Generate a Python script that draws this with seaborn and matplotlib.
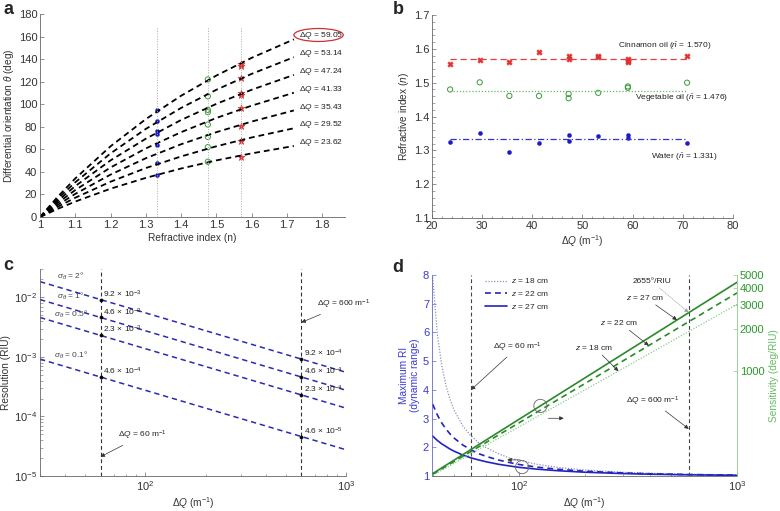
import numpy as np
import pandas as pd
import seaborn as sns
import matplotlib.pyplot as plt
from matplotlib.patches import Ellipse
from matplotlib.ticker import FixedLocator, NullLocator, FuncFormatter, MultipleLocator

# ---- panel a: differential orientation vs refractive index
n_grid = [1.0, 1.05, 1.1, 1.2, 1.3, 1.4, 1.5, 1.6, 1.72]
dq_a = [59.05, 53.14, 47.24, 41.33, 35.43, 29.52, 23.62]
theta_a = [
    [0, 17.9, 34.2, 62.7, 86.8, 107.5, 125.4, 141.1, 157.5],
    [0, 16.1, 30.8, 56.4, 78.1, 96.7, 112.8, 126.9, 141.7],
    [0, 14.3, 27.4, 50.2, 69.4, 86.0, 100.3, 112.8, 126.0],
    [0, 12.5, 23.9, 43.9, 60.8, 75.2, 87.8, 98.7, 110.2],
    [0, 10.7, 20.5, 37.6, 52.1, 64.5, 75.2, 84.6, 94.5],
    [0, 9.0, 17.1, 31.3, 43.4, 53.7, 62.7, 70.5, 78.7],
    [0, 7.2, 13.7, 25.1, 34.7, 43.0, 50.2, 56.4, 63.0],
]
n_water, n_veg, n_cin = 1.331, 1.476, 1.570
theta_water = [37, 48, 64, 74, 76, 85, 95]
theta_veg = [49, 62, 71, 82, 93, 95, 107, 122]
theta_cin = [53, 67, 81, 97, 108, 110, 123, 134, 136]

# ---- panel b: refractive index vs dQ
cin_dq = [23.62, 29.52, 35.43, 41.33, 47.24, 47.24, 53.14, 53.14, 59.05, 59.05, 59.05, 70.86]
cin_n = [1.555, 1.567, 1.560, 1.590, 1.580, 1.571, 1.578, 1.575, 1.569, 1.565, 1.560, 1.578]
veg_dq = [23.62, 29.52, 35.43, 41.33, 47.24, 47.24, 53.14, 59.05, 59.05, 70.86]
veg_n = [1.480, 1.501, 1.461, 1.461, 1.467, 1.454, 1.470, 1.489, 1.485, 1.500]
wat_dq = [23.62, 29.52, 35.43, 41.33, 47.24, 47.24, 53.14, 59.05, 59.05, 70.86]
wat_n = [1.325, 1.351, 1.296, 1.323, 1.346, 1.329, 1.342, 1.346, 1.338, 1.321]
mean_dq = [23.62, 70.86]
mean_cin, mean_veg, mean_wat = 1.570, 1.475, 1.335

# ---- panel c: resolution vs dQ
dq_c = [30, 60, 600, 1000]
sigmas = ["2°", "1°", "0.5°", "0.1°"]
res_c = [
    [1.84e-2, 9.2e-3, 9.2e-4, 5.52e-4],
    [9.2e-3, 4.6e-3, 4.6e-4, 2.76e-4],
    [4.6e-3, 2.3e-3, 2.3e-4, 1.38e-4],
    [9.2e-4, 4.6e-4, 4.6e-5, 2.76e-5],
]
lab_60 = [r"9.2 × 10$^{-3}$", r"4.6 × 10$^{-3}$", r"2.3 × 10$^{-3}$", r"4.6 × 10$^{-4}$"]
lab_600 = [r"9.2 × 10$^{-4}$", r"4.6 × 10$^{-4}$", r"2.3 × 10$^{-4}$", r"4.6 × 10$^{-5}$"]

# ---- panel d: max RI and sensitivity vs dQ
dq_d = [40, 42, 44, 46, 48, 50, 55, 60, 65, 70, 80, 90, 100, 120, 150, 200, 300, 400, 600, 1000]
ri_18 = [7.92, 5.96, 4.86, 4.16, 3.68, 3.32, 2.74, 2.40, 2.16, 2.00, 1.78, 1.63, 1.54, 1.41,
         1.30, 1.21, 1.13, 1.096, 1.062, 1.036]
ri_22 = [3.50, 3.13, 2.85, 2.64, 2.47, 2.33, 2.08, 1.91, 1.78, 1.69, 1.56, 1.47, 1.40, 1.31,
         1.235, 1.167, 1.105, 1.077, 1.050, 1.029]
ri_27 = [2.39, 2.24, 2.12, 2.03, 1.94, 1.87, 1.73, 1.63, 1.56, 1.50, 1.41, 1.35, 1.30, 1.24,
         1.184, 1.132, 1.084, 1.062, 1.040, 1.024]
dq_s = [40, 1000]
sens_18 = [172, 3050]
sens_22 = [175, 3700]
sens_27 = [177, 4425]

sns.set_style("ticks")
plt.rcParams["font.family"] = ["Liberation Sans", "DejaVu Sans"]
plt.rcParams["mathtext.fontset"] = "custom"
plt.rcParams["mathtext.rm"] = "Liberation Sans"
plt.rcParams["mathtext.it"] = "Liberation Sans:italic"
plt.rcParams["mathtext.bf"] = "Liberation Sans:bold"
plt.rcParams["font.size"] = 8
plt.rcParams["axes.linewidth"] = 0.6
plt.rcParams["axes.edgecolor"] = "#666666"
plt.rcParams["xtick.color"] = "#666666"
plt.rcParams["ytick.color"] = "#666666"
plt.rcParams["xtick.labelcolor"] = "#333333"
plt.rcParams["ytick.labelcolor"] = "#333333"
plt.rcParams["axes.labelcolor"] = "#333333"

fig = plt.figure(figsize=(7.8, 5.11), dpi=100)
ax_a = fig.add_axes([0.0513, 0.5753, 0.3910, 0.3973])
ax_b = fig.add_axes([0.5538, 0.5733, 0.3859, 0.3973])
ax_c = fig.add_axes([0.0513, 0.0685, 0.3923, 0.4051])
ax_d = fig.add_axes([0.5538, 0.0685, 0.3911, 0.3933])

for a in [ax_a, ax_b, ax_c, ax_d]:
    sns.despine(ax=a)
    a.tick_params(direction="in", length=3, width=0.5, labelsize=8, pad=2)
    a.tick_params(which="minor", direction="in", length=1.8, width=0.4)

lab_kw = dict(fontsize=7.3, color="#333333", labelpad=2)
txt = dict(fontsize=6, color="#222222")
DQ = r"$\Delta Q$"

# ---------------- a
for dq, th in zip(dq_a, theta_a):
    d = pd.DataFrame({"n": n_grid, "theta": th})
    sns.lineplot(data=d, x="n", y="theta", ax=ax_a, color="black", lw=1.3,
                 linestyle=(0, (3.2, 2.2)), sort=False)
    ax_a.text(1.734, th[-1] + 3, DQ + " = %.2f" % dq, va="center", ha="left", **txt)
for nv in [n_water, n_veg, n_cin]:
    ax_a.axvline(nv, ymax=0.937, color="#aaaaaa", lw=0.7, ls=":")
sns.scatterplot(x=[n_water] * len(theta_water), y=theta_water, ax=ax_a,
                color="#1a1acc", marker="o", s=9, edgecolor="#1a1acc")
sns.scatterplot(x=[n_veg] * len(theta_veg), y=theta_veg, ax=ax_a,
                facecolor="none", edgecolor="#3a9a3a", marker="o", s=14, linewidth=0.7)
sns.scatterplot(x=[n_cin] * len(theta_cin), y=theta_cin, ax=ax_a,
                color="#e03030", marker="*", s=28, edgecolor="#e03030")
ax_a.add_patch(Ellipse((1.79, 161.4), 0.14, 11.5, fill=False, ec="#d03030",
                       lw=0.9, clip_on=False))
ax_a.set_xlim(1, 1.865)
ax_a.set_ylim(0, 180)
ax_a.xaxis.set_major_locator(FixedLocator([1, 1.1, 1.2, 1.3, 1.4, 1.5, 1.6, 1.7, 1.8]))
ax_a.xaxis.set_major_formatter(FuncFormatter(lambda v, p: "%g" % round(v, 2)))
ax_a.yaxis.set_major_locator(MultipleLocator(20))
ax_a.set_xlabel("Refractive index (n)", **lab_kw)
ax_a.set_ylabel(r"Differential orientation $\theta$ (deg)", **lab_kw)

# ---------------- b
sns.scatterplot(x=cin_dq, y=cin_n, ax=ax_b, color="#e03030", marker="X", s=16,
                edgecolor="#e03030")
sns.scatterplot(x=veg_dq, y=veg_n, ax=ax_b, facecolor="none", edgecolor="#3a9a3a",
                marker="o", s=14, linewidth=0.7)
sns.scatterplot(x=wat_dq, y=wat_n, ax=ax_b, color="#1a1acc", marker="o", s=9,
                edgecolor="#1a1acc")
sns.lineplot(x=mean_dq, y=[mean_cin] * 2, ax=ax_b, color="#e04040", lw=0.9,
             linestyle=(0, (5, 3)))
sns.lineplot(x=mean_dq, y=[mean_veg] * 2, ax=ax_b, color="#66bb66", lw=0.9,
             linestyle=(0, (1, 1.5)))
sns.lineplot(x=mean_dq, y=[mean_wat] * 2, ax=ax_b, color="#3333cc", lw=0.9,
             linestyle=(0, (5, 2, 1, 2)))
ax_b.text(75.6, 1.609, r"Cinnamon oil ($\bar{n}$ = 1.570)", ha="right", va="center", **txt)
ax_b.text(79, 1.455, r"Vegetable oil ($\bar{n}$ = 1.476)", ha="right", va="center", **txt)
ax_b.text(77, 1.281, r"Water ($\bar{n}$ = 1.331)", ha="right", va="center", **txt)
ax_b.set_xlim(20, 80)
ax_b.set_ylim(1.1, 1.7)
ax_b.xaxis.set_major_locator(MultipleLocator(10))
ax_b.xaxis.set_minor_locator(MultipleLocator(2))
ax_b.yaxis.set_major_locator(MultipleLocator(0.1))
ax_b.yaxis.set_minor_locator(MultipleLocator(0.02))
ax_b.yaxis.set_major_formatter(FuncFormatter(lambda v, p: "%.1f" % v))
ax_b.set_xlabel(DQ + r" (m$^{-1}$)", **lab_kw)
ax_b.set_ylabel(r"Refractive index ($n$)", **lab_kw)

# ---------------- c
ax_c.set_xscale("log")
ax_c.set_yscale("log")
for res in res_c:
    sns.lineplot(x=dq_c, y=res, ax=ax_c, color="#2b2bb0", lw=1.1,
                 linestyle=(0, (3.5, 2.5)))
    sns.scatterplot(x=dq_c[1:3], y=res[1:3], ax=ax_c, color="black", s=6,
                    edgecolor="black", zorder=5)
for res, l60, l600 in zip(res_c, lab_60, lab_600):
    ax_c.annotate(l60, (dq_c[1], res[1]), xytext=(2, 4), textcoords="offset points",
                  va="center", **txt)
    ax_c.annotate(l600, (dq_c[2], res[2]), xytext=(2, 4), textcoords="offset points",
                  va="center", **txt)
sig_pos = [(36.3, 0.0227), (36.3, 0.0104), (35.1, 5.15e-3), (35.1, 1.08e-3)]
for s, (xp, yp) in zip(sigmas, sig_pos):
    ax_c.text(xp, yp, r"$\sigma_\theta$ = " + s, fontsize=6, color="#444444",
              va="center", ha="left")
for v in [60, 600]:
    ax_c.axvline(v, color="#333333", lw=0.8, ls=(0, (3.5, 2.5)))
arr = dict(arrowstyle="-|>", color="#333333", lw=0.5, mutation_scale=6,
           shrinkA=0, shrinkB=0)
ax_c.annotate(DQ + r" = 60 m$^{-1}$", xy=(60, 2.1e-5), xytext=(73, 4.8e-5),
              va="center", arrowprops=arr, **txt)
ax_c.annotate(DQ + r" = 600 m$^{-1}$", xy=(600, 3.8e-3), xytext=(720, 7.6e-3),
              va="center", arrowprops=arr, **txt)
ax_c.set_xlim(30, 1000)
ax_c.set_ylim(1e-5, 0.03)
ax_c.set_xlabel(DQ + r" (m$^{-1}$)", **lab_kw)
ax_c.set_ylabel("Resolution (RIU)", **lab_kw)

# ---------------- d
blue = "#2323c0"
green = "#2a8a2a"
ax_d.set_xscale("log")
sns.lineplot(x=dq_d, y=ri_18, ax=ax_d, color="#9090bb", lw=0.9, linestyle=(0, (1, 1.3)),
             label=r"$z$ = 18 cm")
sns.lineplot(x=dq_d, y=ri_22, ax=ax_d, color=blue, lw=1.2, linestyle=(0, (3.5, 2.5)),
             label=r"$z$ = 22 cm")
sns.lineplot(x=dq_d, y=ri_27, ax=ax_d, color=blue, lw=1.2, label=r"$z$ = 27 cm")
ax_d.set_xlim(39.7, 1000)
ax_d.set_ylim(1, 8)
ax_d.yaxis.set_major_locator(MultipleLocator(1))
ax_d.tick_params(axis="y", labelcolor="#3a3ad0", color="#6666cc")
ax_d.spines["left"].set_color("#6666cc")
for v in [60, 600]:
    ax_d.axvline(v, color="#444444", lw=0.8, ls=(0, (3.5, 2.5)))
ax_d.set_xlabel(DQ + r" (m$^{-1}$)", **lab_kw)
ax_d.set_ylabel("Maximum RI\n(dynamic range)", fontsize=7.3, color="#3a3ad0", labelpad=2)

ax_s = ax_d.twinx()
ax_s.set_yscale("log")
sns.lineplot(x=dq_s, y=sens_18, ax=ax_s, color="#88cc88", lw=0.9, linestyle=(0, (1, 1.3)))
sns.lineplot(x=dq_s, y=sens_22, ax=ax_s, color=green, lw=1.2, linestyle=(0, (3.5, 2.5)))
sns.lineplot(x=dq_s, y=sens_27, ax=ax_s, color=green, lw=1.2)
ax_s.set_ylim(170, 5000)
ax_s.yaxis.set_major_locator(FixedLocator([1000, 2000, 3000, 4000, 5000]))
ax_s.yaxis.set_minor_locator(NullLocator())
ax_s.yaxis.set_major_formatter(FuncFormatter(lambda v, p: "%d" % v))
ax_s.tick_params(axis="y", direction="in", length=3, width=0.5, labelsize=8, pad=2,
                 labelcolor="#2a9a2a", color="#88cc88")
for sp in ["top", "left", "bottom"]:
    ax_s.spines[sp].set_visible(False)
ax_s.spines["right"].set_color("#88cc88")
ax_s.spines["right"].set_linewidth(0.6)
ax_s.set_ylabel("Sensitivity (deg/RIU)", fontsize=7.3, color="#66bb66", labelpad=3)

ax_d.annotate(DQ + r" = 60 m$^{-1}$", xy=(60, 4.0), xytext=(76, 5.49),
              va="center", arrowprops=arr, **txt)
ax_d.annotate(DQ + r" = 600 m$^{-1}$", xy=(600, 2.64), xytext=(308, 3.61),
              va="center", arrowprops=arr, **txt)
ax_s.annotate(r"$z$ = 27 cm", xy=(530, 2345), xytext=(308, 3450),
              va="center", arrowprops=arr, **txt)
ax_s.annotate(r"$z$ = 22 cm", xy=(393, 1526), xytext=(236, 2250),
              va="center", arrowprops=arr, **txt)
ax_s.annotate(r"$z$ = 18 cm", xy=(285, 993), xytext=(181, 1480),
              va="center", arrowprops=arr, **txt)
ax_s.annotate("2655°/RIU", xy=(600, 2655), xytext=(330, 4500),
              va="center",
              arrowprops=dict(arrowstyle="-|>", color="#999999", lw=0.5, ls=":",
                              mutation_scale=6, shrinkA=0, shrinkB=0), **txt)
sns.scatterplot(x=[125], y=[553], ax=ax_s, marker="o", s=90, facecolor="none",
                edgecolor="#666666", linewidth=0.6, zorder=6, legend=False)
sns.scatterplot(x=[103], y=[1.31], ax=ax_d, marker="o", s=90, facecolor="none",
                edgecolor="#666666", linewidth=0.6, zorder=6, legend=False)
ax_s.annotate("", xy=(160, 449), xytext=(136, 449), arrowprops=arr)
ax_d.annotate("", xy=(88, 1.56), xytext=(101, 1.56), arrowprops=arr)

ax_d.legend(loc="upper left", bbox_to_anchor=(0.15, 1.03), frameon=False, fontsize=6,
            handlelength=2.6, labelspacing=0.45, handletextpad=0.5)

for lbl, xp, yp in [("a", 0.004, 0.998), ("b", 0.503, 0.998),
                    ("c", 0.004, 0.497), ("d", 0.503, 0.493)]:
    fig.text(xp, yp, lbl, fontsize=13, fontweight="bold", va="top", ha="left")

fig.savefig("out.png", dpi=100)
